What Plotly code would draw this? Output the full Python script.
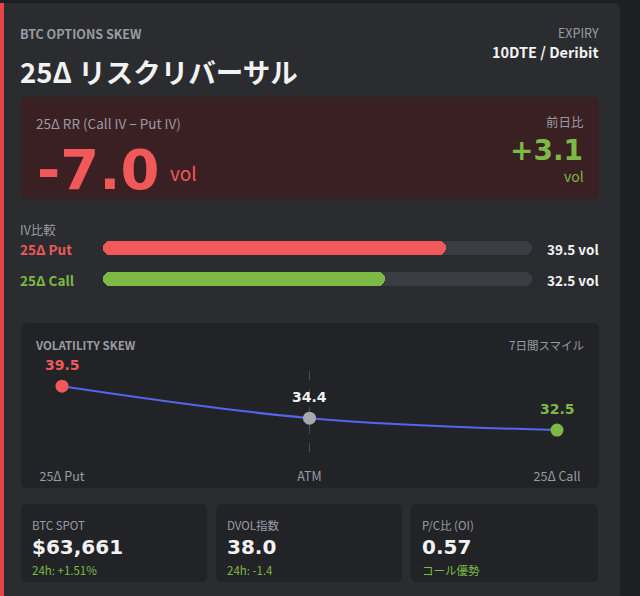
import plotly.graph_objects as go

# ---------------- data ----------------
title_kicker = "BTC OPTIONS SKEW"
title_main = "25Δ リスクリバーサル"
expiry_label = "EXPIRY"
expiry_value = "10DTE / Deribit"

rr_label = "25Δ RR (Call IV − Put IV)"
rr_value = -7.0
rr_change = 3.1

iv_names = ["25Δ Put", "25Δ Call"]
iv_values = [39.5, 32.5]

skew_points = ["25Δ Put", "ATM", "25Δ Call"]
skew_values = [39.5, 34.4, 32.5]

stat_labels = ["BTC SPOT", "DVOL指数", "P/C比 (OI)"]
stat_values = ["$63,661", "38.0", "0.57"]
stat_subs = ["24h: +1.51%", "24h: -1.4", "コール優勢"]

# ---------------- style ----------------
W, H = 640, 596
PAGE = "#1e1f22"
CARD = "#2b2c30"
PANEL = "#222327"
REDBOX = "#3a1f23"
TRACK = "#3c3d43"
RED = "#f0585a"
GREEN = "#7cba45"
BLUE = "#5366ec"
GRAY = "#9a9ca3"
WHITE = "#f2f2f2"
JP = "Noto Sans CJK JP"
NUM = "DejaVu Sans"


def px(x):
    return x / W


def py(y):
    return 1 - y / H


def rrect(x0, y0, x1, y1, r, color):
    def P(x, y):
        return f"{px(x):.5f},{py(y):.5f}"
    path = (f"M {P(x0+r,y0)} L {P(x1-r,y0)} Q {P(x1,y0)} {P(x1,y0+r)} "
            f"L {P(x1,y1-r)} Q {P(x1,y1)} {P(x1-r,y1)} L {P(x0+r,y1)} "
            f"Q {P(x0,y1)} {P(x0,y1-r)} L {P(x0,y0+r)} Q {P(x0,y0)} {P(x0+r,y0)} Z")
    return dict(type="path", path=path, xref="paper", yref="paper",
                fillcolor=color, line=dict(width=0), layer="below")


fig = go.Figure()

# ---------------- IV comparison bars (two overlapping pieces -> both ends rounded) ----------------
bar_max = max(iv_values) * 1.25
bw = 0.444
for vals, colors in [([bar_max] * len(iv_values), [TRACK] * len(iv_values)),
                     (iv_values, [RED, GREEN])]:
    fig.add_trace(go.Bar(
        y=iv_names, x=[0.7 * v for v in vals], base=[0.3 * v for v in vals],
        orientation="h", marker=dict(color=colors, cornerradius=7, line=dict(width=0)),
        width=bw, xaxis="x", yaxis="y", hoverinfo="skip", showlegend=False))
    fig.add_trace(go.Bar(
        y=iv_names, x=[-0.7 * v for v in vals], base=[0.7 * v for v in vals],
        orientation="h", marker=dict(color=colors, cornerradius=7, line=dict(width=0)),
        width=bw, xaxis="x", yaxis="y", hoverinfo="skip", showlegend=False))

# ---------------- skew line ----------------
fig.add_trace(go.Scatter(
    x=skew_points, y=skew_values, mode="lines+markers",
    line=dict(color=BLUE, width=2, shape="spline", smoothing=1),
    marker=dict(size=13, color=[RED, "#a6a8ae", GREEN], line=dict(width=0)),
    xaxis="x2", yaxis="y2", cliponaxis=False, hoverinfo="skip", showlegend=False))

shapes = [
    dict(type="rect", xref="paper", yref="paper", x0=0, x1=1, y0=0, y1=1,
         fillcolor=PAGE, line=dict(width=0), layer="below"),
    rrect(0, 3, 620, 640, 7, CARD),
    dict(type="rect", xref="paper", yref="paper", x0=0, x1=px(4), y0=0, y1=py(3),
         fillcolor="#e8434a", line=dict(width=0), layer="below"),
    rrect(21, 97, 599, 199, 6, REDBOX),
    rrect(21, 323, 599, 488, 6, PANEL),
    dict(type="line", xref="x2", yref="paper", x0="ATM", x1="ATM",
         y0=py(452), y1=py(363), line=dict(color="#4c4d52", width=1, dash="dash"),
         layer="below"),
]
card_x = [(21, 207), (216, 402), (411, 598)]
for x0, x1 in card_x:
    shapes.append(rrect(x0, 504, x1, 582, 6, PANEL))

ann = []


def T(x, y, text, size, color, family=JP, bold=False, anchor="left"):
    # annotation boxes carry ~3px of inner padding; compensate so glyphs sit at x
    x = x - 3 if anchor == "left" else x + 3
    ann.append(dict(x=px(x), y=py(y), xref="paper", yref="paper", text=text,
                    showarrow=False, xanchor=anchor, yanchor="middle",
                    font=dict(family=family, size=size, color=color,
                              weight="bold" if bold else "normal")))


T(21, 34, title_kicker, 12.5, GRAY, bold=True)
T(21, 71, title_main, 27.5, WHITE, bold=True)
T(598, 33, expiry_label, 12.5, GRAY, anchor="right")
T(598, 52, expiry_value, 14.5, WHITE, bold=True, anchor="right")

T(37, 123, rr_label, 13.5, GRAY)
T(38, 169, f"{rr_value:.1f}", 56, RED, family=NUM, bold=True)
T(171, 172, "vol", 19, RED)
T(583, 122, "前日比", 12.5, GRAY, anchor="right")
T(582, 150.5, f"{rr_change:+.1f}", 28, GREEN, family=NUM, bold=True, anchor="right")
T(583, 175.5, "vol", 14, GREEN, anchor="right")

T(21, 229, "IV比較", 12.5, GRAY)
for name, v, yy, c in zip(iv_names, iv_values, [249, 280], [RED, GREEN]):
    T(21, yy, name, 13.5, c, bold=True)
    T(598, yy, f"{v:.1f} vol", 13.5, WHITE, bold=True, anchor="right")

T(36, 345, "VOLATILITY SKEW", 11.5, GRAY, bold=True)
T(583, 345, "7日間スマイル", 11.5, GRAY, anchor="right")

for p, v, c in zip(skew_points, skew_values, [RED, WHITE, GREEN]):
    ann.append(dict(x=p, y=v, xref="x2", yref="y2", text=f"{v:.1f}", showarrow=False,
                    yshift=21, xanchor="center", yanchor="middle",
                    font=dict(family=NUM, size=14, color=c, weight="bold")))

for (x0, x1), lab, val, sub in zip(card_x, stat_labels, stat_values, stat_subs):
    T(x0 + 12, 525, lab, 11.5, GRAY)
    T(x0 + 12, 547, val, 20, WHITE, family=NUM, bold=True)
    T(x0 + 12, 570, sub, 11.5, GREEN)

fig.update_layout(
    width=W, height=H, margin=dict(l=0, r=0, t=0, b=0, pad=0, autoexpand=False),
    paper_bgcolor=PAGE, plot_bgcolor="rgba(0,0,0,0)",
    barmode="overlay", bargap=0, showlegend=False,
    shapes=shapes, annotations=ann,
    xaxis=dict(domain=[px(103), px(532)], range=[0, bar_max], visible=False,
               fixedrange=True, automargin=False),
    yaxis=dict(domain=[py(295), py(232)], range=[-0.5, 1.5], type="category",
               categoryorder="array", categoryarray=["25Δ Call", "25Δ Put"],
               visible=False, fixedrange=True, automargin=False),
    xaxis2=dict(domain=[px(62), px(557)], range=[0, 2], type="category",
                categoryorder="array", categoryarray=skew_points,
                showgrid=False, zeroline=False, showline=False, ticks="",
                tickfont=dict(family=JP, size=12.5, color=GRAY),
                ticklabelstandoff=15, anchor="y2", automargin=False),
    yaxis2=dict(domain=[py(452), py(363)], range=[29.0, 43.2], visible=False,
                anchor="x2", automargin=False),
)

fig.write_html("out.html")
